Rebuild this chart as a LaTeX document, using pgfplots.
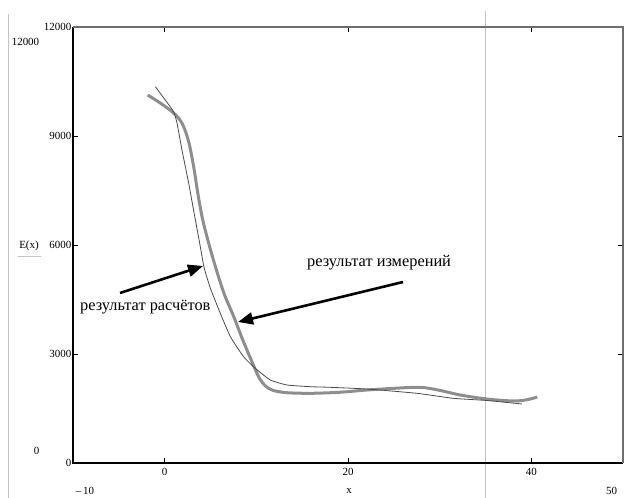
\documentclass[border=0pt]{standalone}
\usepackage{pgfplots}
\pgfplotsset{compat=1.18}
\usepackage{fontspec}
\setmainfont{Liberation Serif}
\usetikzlibrary{arrows.meta}
\definecolor{meas}{HTML}{8E8E8E}
\definecolor{calc}{HTML}{4A4A4A}
\definecolor{frame}{HTML}{6E6E6E}
\definecolor{lgray}{HTML}{C4C4C4}
\begin{document}
\begin{tikzpicture}[x=1bp,y=1bp]
\useasboundingbox (0,0) rectangle (625,498);
\draw[lgray,line width=1.5bp] (8.7,0) -- (8.7,484);
\begin{axis}[at={(73bp,35bp)},anchor=south west,scale only axis,width=550bp,height=436bp,
  xmin=-10,xmax=50,ymin=0,ymax=12000,
  xtick={0,20,40}, xticklabels={0,20,40},
  ytick={0,3000,6000,9000,12000}, yticklabels={0,3000,6000,9000,12000},
  scaled ticks=false, tick align=inside, major tick length=5bp,
  tick style={line width=0.8bp,black},
  tick label style={font=\fontsize{11}{13}\selectfont},
  yticklabel style={inner sep=1.5bp},
  xticklabel style={inner sep=2bp,yshift=-3bp},
  axis line style={draw=none},
  clip=false]
\draw[lgray,line width=1bp] (axis cs:35,-963) -- (axis cs:35,12440);
% measured (thick)
\addplot[meas,line width=3bp,smooth,tension=0.5] coordinates {
(-1.85,10127) (-0.47,9906) (0.98,9631) (1.90,9349) (2.62,8842) (3.2,8100)
(3.6,7450) (4.1,6750) (4.8,6050) (5.6,5350) (6.5,4650) (7.5,4050)
(8.5,3400) (9.5,2800) (10.3,2350) (11.0,2120) (11.8,2000) (13.3,1935)
(15.89,1918) (19.0,1945)
(22.07,2009) (25.0,2055) (27.88,2083) (30.0,2000) (32.24,1871) (35.16,1761)
(38.03,1706) (39.5,1740) (40.64,1816)};
% calculated (thin)
\addplot[calc,line width=0.8bp,smooth,tension=0.3] coordinates {
(-1.01,10356) (0.0,10010) (0.98,9668) (1.35,9349) (1.9,8600) (2.62,7700)
(3.16,6950) (3.89,5953) (4.3,5380) (5.0,4800) (6.07,4120)
(7.17,3476) (8.61,2925) (9.89,2606) (11.53,2284) (13.35,2147) (15.89,2100)
(18.07,2083) (22.07,2036) (27.52,1918) (31.48,1780) (35.16,1720) (38.97,1624)};
\draw[black,line width=1.2bp] (rel axis cs:0,1) -- (rel axis cs:0,0) -- (rel axis cs:1,0);
\draw[frame,line width=1.2bp] (rel axis cs:0,1) -- (rel axis cs:1,1) -- (rel axis cs:1,0);
\end{axis}
\begin{scope}[font=\fontsize{11}{13}\selectfont]
\node at (25.5,456.3) {12000};
\node at (36.7,47) {0};
\node at (85,7.3) {\textendash\,10};
\node at (349,7.3) {x};
\node at (611.7,7.3) {50};
\node at (29,252.3) {E(x)};
\draw[lgray,line width=0.8bp] (18.3,241.3) -- (41,241.3);
\end{scope}
\draw[line width=2.6bp,-{Triangle[length=15bp,width=12bp]}] (120,205) -- (203,232);
\draw[line width=2.6bp,-{Triangle[length=15bp,width=12bp]}] (403,216) -- (238,176);
\node[anchor=base west,inner sep=0pt,font=\fontsize{16.4}{19}\selectfont] at (80,187) {результат расчётов};
\node[anchor=base west,inner sep=0pt,font=\fontsize{16.4}{19}\selectfont] at (307,231) {результат измерений};
\end{tikzpicture}
\end{document}
